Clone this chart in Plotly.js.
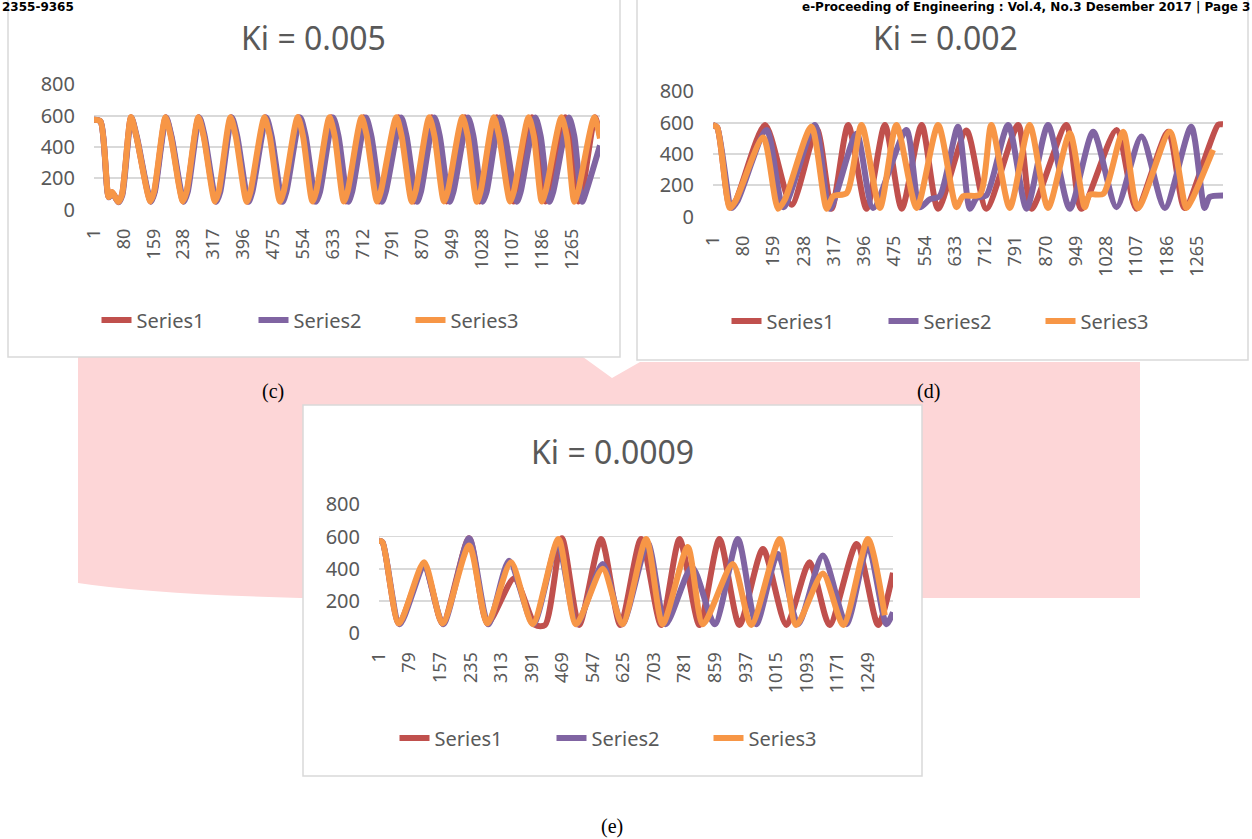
<!DOCTYPE html>
<html><head><meta charset="utf-8">
<script src="https://cdn.plot.ly/plotly-3.0.1.min.js"></script>
<style>html,body{margin:0;padding:0;background:#fff;overflow:hidden}#chart{width:1252px;height:839px;}</style>
</head><body><div id="chart"></div>
<script>
// ---------------- DATA ----------------
const seriesNames = ["Series1", "Series2", "Series3"];
const titleC = "Ki = 0.005", titleD = "Ki = 0.002", titleE = "Ki = 0.0009";
const yTicks = [0, 200, 400, 600, 800];
const cTicks = [1, 80, 159, 238, 317, 396, 475, 554, 633, 712, 791, 870, 949, 1028, 1107, 1186, 1265];
const dTicks = [1, 80, 159, 238, 317, 396, 475, 554, 633, 712, 791, 870, 949, 1028, 1107, 1186, 1265];
const eTicks = [1, 79, 157, 235, 313, 391, 469, 547, 625, 703, 781, 859, 937, 1015, 1093, 1171, 1249];
const cLength = 1340, dLength = 1333, eLength = 1313;

// chart (c) Ki = 0.005
const c_x_s1 = [1,18,40,49,65,75, 99,113,151,161, 191,205,237,247, 278,292,323,333, 364,378,407,417, 454,468,496,506, 543,557,584,594, 629,643,668,678, 715,729,756,766, 807,821,849,859, 895,909,934,944, 983,997,1022,1032, 1067,1081,1111,1121, 1160,1174,1196,1206, 1248,1262,1283,1293, 1327,1340];
const c_y_s1 = [575,565,80,110,48,95, 590,470,52,115, 590,470,52,115, 590,470,52,115, 590,470,52,115, 590,470,52,115, 590,470,52,115, 590,470,52,115, 590,470,52,115, 590,470,52,115, 590,470,52,115, 590,470,52,115, 590,470,52,115, 590,470,52,115, 590,470,52,115, 590,470];
const c_x_s2 = [1,18,40,50,66,76, 100,114,152,162, 192,206,239,249, 280,294,325,335, 366,380,410,420, 457,471,500,510, 547,561,589,599, 634,648,674,684, 721,735,763,773, 814,828,856,866, 902,916,942,952, 991,1005,1030,1040, 1075,1089,1120,1130, 1169,1183,1206,1216, 1258,1272,1293,1303, 1340];
const c_y_s2 = [575,565,78,105,46,92, 588,470,50,112, 588,470,50,112, 588,470,50,112, 588,470,50,112, 588,470,50,112, 588,470,50,112, 588,470,50,112, 588,470,50,112, 588,470,50,112, 588,470,50,112, 588,470,50,112, 588,470,50,112, 588,470,50,112, 588,470,50,112, 410];
const c_x_s3 = [1,18,40,49,65,75, 99,113,150,160, 190,204,236,246, 277,291,321,331, 362,376,405,415, 452,466,493,503, 540,554,579,589, 624,638,662,672, 709,723,750,760, 801,815,842,852, 888,902,927,937, 976,990,1014,1024, 1059,1073,1102,1112, 1151,1165,1186,1196, 1238,1252,1272,1282, 1325,1340];
const c_y_s3 = [575,565,80,112,48,95, 592,470,52,115, 590,470,52,115, 590,470,52,115, 590,470,50,115, 590,470,52,115, 592,470,52,115, 590,470,52,115, 590,470,52,115, 590,470,50,115, 590,470,52,115, 592,470,50,115, 590,470,52,115, 590,470,52,115, 590,470,50,115, 590,455];

// chart (d) Ki = 0.002
const d_x_s1 = [1,12,45,60,137,206,272,311,354,402,450,494,546,589,663,715,798,833,924,963,1055,1107,1190,1233,1320,1333];
const d_y_s1 = [585,570,60,100,586,75,560,50,586,50,586,50,586,50,550,50,586,50,586,50,554,50,543,55,586,590];
const d_x_s2 = [1,12,50,65,141,185,267,306,376,419,506,541,567,593,641,672,690,715,772,820,876,933,994,1055,1120,1181,1250,1285,1298,1333];
const d_y_s2 = [585,570,55,100,554,60,586,50,530,55,554,60,110,130,575,50,120,135,586,50,586,50,543,60,512,55,575,55,125,135];
const d_x_s3 = [1,12,45,60,132,171,189,258,298,315,350,389,437,480,533,589,637,654,698,728,776,828,876,933,972,985,1020,1072,1111,1194,1237,1250,1307];
const d_y_s3 = [585,570,55,100,505,50,110,575,50,130,150,586,55,586,55,586,60,130,140,586,55,586,55,533,60,140,145,543,55,543,55,100,427];

// chart (e) Ki = 0.0009
const e_x_s1 = [1,10,52,116,163,231,278,346,400,425,468,512,568,617,670,721,768,819,870,921,981,1041,1100,1151,1220,1275,1313];
const e_y_s1 = [575,565,60,420,60,590,60,340,50,50,590,50,585,50,585,50,585,50,585,50,523,50,440,50,554,50,375];
const e_x_s2 = [1,10,54,116,165,231,280,333,395,457,506,572,622,687,733,800,858,917,964,1019,1071,1134,1194,1249,1296,1313];
const e_y_s2 = [575,565,55,410,55,590,55,450,55,560,55,430,55,560,55,410,55,585,55,492,55,482,55,543,55,129];
const e_x_s3 = [1,10,52,116,163,231,278,338,393,459,504,572,622,683,725,789,828,904,951,1024,1066,1134,1186,1249,1292];
const e_y_s3 = [575,565,60,441,60,545,60,440,55,585,55,400,55,585,55,535,55,430,50,585,50,370,50,585,110];

// ---------------- STYLE ----------------
const W = 1252, H = 839;
const px = x => x / W, py = y => 1 - y / H;
const colors = ["#C0504D", "#8064A2", "#F79646"];
const FONT = "Noto Sans, Open Sans, sans-serif";
const GREY = "#595959", GRID = "#D9D9D9";

function tr(x, y, i, xa, ya, lg) {
  return {x: x, y: y, name: seriesNames[i], type: "scatter", mode: "lines",
    xaxis: xa, yaxis: ya, legend: lg, hoverinfo: "skip",
    line: {color: colors[i], width: 6, shape: "spline", smoothing: 0.7}};
}
const data = [
  tr(c_x_s1, c_y_s1, 0, "x", "y", "legend"), tr(c_x_s2, c_y_s2, 1, "x", "y", "legend"), tr(c_x_s3, c_y_s3, 2, "x", "y", "legend"),
  tr(d_x_s1, d_y_s1, 0, "x2", "y2", "legend2"), tr(d_x_s2, d_y_s2, 1, "x2", "y2", "legend2"), tr(d_x_s3, d_y_s3, 2, "x2", "y2", "legend2"),
  tr(e_x_s1, e_y_s1, 0, "x3", "y3", "legend3"), tr(e_x_s2, e_y_s2, 1, "x3", "y3", "legend3"), tr(e_x_s3, e_y_s3, 2, "x3", "y3", "legend3")
];

function xa(dom, len, ticks, anchor) {
  return {domain: dom, range: [1, len], tickvals: ticks, ticktext: ticks.map(String), tickangle: -90,
    showgrid: false, zeroline: false, showline: false, ticks: "", anchor: anchor, fixedrange: true,
    tickfont: {family: FONT, size: 18, color: GREY}, ticklabelstandoff: 14};
}
function ya(dom, anchor) {
  return {domain: dom, range: [-3, 803], tickvals: yTicks, showgrid: true, gridcolor: GRID, gridwidth: 1.6,
    zeroline: false, showline: false, ticks: "", anchor: anchor, fixedrange: true,
    tickfont: {family: FONT, size: 20, color: GREY}, ticklabelstandoff: 18};
}
function lg(cx, cy) {
  return {orientation: "h", x: px(cx), xanchor: "center", y: py(cy), yanchor: "middle",
    font: {family: FONT, size: 20, color: GREY}, bgcolor: "rgba(0,0,0,0)",
    entrywidth: 112, entrywidthmode: "pixels", traceorder: "normal"};
}
function ann(text, x, y, size, opts) {
  return Object.assign({text: text, x: px(x), y: py(y), xref: "paper", yref: "paper", showarrow: false,
    xanchor: "center", yanchor: "middle", font: {family: FONT, size: size, color: GREY}}, opts || {});
}

const pinkPath = "M" + px(78) + "," + py(357) + " L" + px(583) + "," + py(357) + " L" + px(612) + "," + py(378) +
  " L" + px(640) + "," + py(362) + " L" + px(1140) + "," + py(362) + " L" + px(1140) + "," + py(598) +
  " L" + px(300) + "," + py(598) + " Q" + px(150) + "," + py(594) + " " + px(78) + "," + py(583) + " Z";

const shapes = [
  {type: "path", path: pinkPath, xref: "paper", yref: "paper", fillcolor: "#FDD6D7", line: {width: 0}, layer: "below"},
  {type: "rect", xref: "paper", yref: "paper", x0: px(8), x1: px(620), y0: py(357), y1: py(-5), fillcolor: "#FFFFFF", line: {color: GRID, width: 1.5}, layer: "below"},
  {type: "rect", xref: "paper", yref: "paper", x0: px(637), x1: px(1248), y0: py(360), y1: py(-5), fillcolor: "#FFFFFF", line: {color: GRID, width: 1.5}, layer: "below"},
  {type: "rect", xref: "paper", yref: "paper", x0: px(303), x1: px(922), y0: py(776), y1: py(405), fillcolor: "#FFFFFF", line: {color: GRID, width: 1.5}, layer: "below"}
];

const HEADFONT = {family: "DejaVu Sans, Liberation Sans, sans-serif", size: 12, color: "#000"};
const annotations = [
  ann(titleC, 313, 38, 32), ann(titleD, 945, 38, 32), ann(titleE, 612, 451, 32),
  ann("(c)", 273, 391, 20, {font: {family: "Liberation Serif, Times New Roman, serif", size: 20, color: "#000"}}),
  ann("(d)", 928, 391, 20, {font: {family: "Liberation Serif, Times New Roman, serif", size: 20, color: "#000"}}),
  ann("(e)", 612, 826, 20, {font: {family: "Liberation Serif, Times New Roman, serif", size: 20, color: "#000"}}),
  ann("<b>2355-9365</b>", 0, -2, 12, {xanchor: "left", yanchor: "top", font: HEADFONT}),
  ann("<b>e-Proceeding of Engineering : Vol.4, No.3 Desember 2017 | Page 3</b>", 1252, -2, 12, {xanchor: "right", yanchor: "top", font: HEADFONT})
];

const layout = {
  width: W, height: H, margin: {l: 0, r: 0, t: 0, b: 0},
  paper_bgcolor: "#FFFFFF", plot_bgcolor: "#FFFFFF", font: {family: FONT, color: GREY},
  showlegend: true,
  xaxis: xa([px(94), px(600)], cLength, cTicks, "y"),
  yaxis: ya([py(210), py(84)], "x"),
  xaxis2: xa([px(713), px(1223)], dLength, dTicks, "y2"),
  yaxis2: ya([py(217), py(91)], "x2"),
  xaxis3: xa([px(379), px(893)], eLength, eTicks, "y3"),
  yaxis3: ya([py(633.5), py(504)], "x3"),
  legend: lg(332, 320), legend2: lg(962, 321), legend3: lg(630, 738),
  shapes: shapes, annotations: annotations
};
Plotly.newPlot("chart", data, layout, {displayModeBar: false, staticPlot: true});
</script></body></html>
